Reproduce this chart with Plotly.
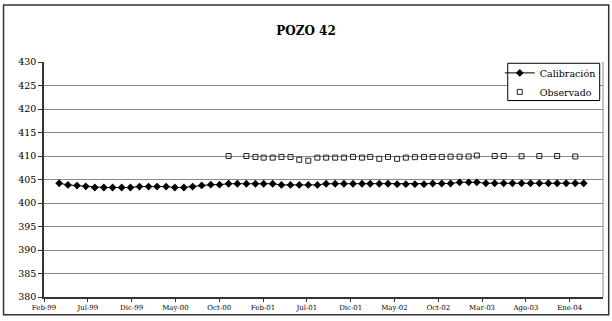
import pandas as pd
import plotly.graph_objects as go

# Monthly calibrated heads, Apr-1999 .. Mar-2004
calib_dates = pd.date_range("1999-04-01", periods=60, freq="MS")
calib_vals = [
    404.2, 403.85, 403.7, 403.55, 403.3, 403.3, 403.3, 403.3, 403.3,          # 1999
    403.5, 403.5, 403.5, 403.5, 403.3, 403.3, 403.5, 403.75, 403.9, 403.9,    # 2000
    404.1, 404.1,
    404.1, 404.1, 404.1, 404.1, 403.85, 403.85, 403.85, 403.85, 403.85,       # 2001
    404.1, 404.1, 404.1,
    404.1, 404.1, 404.1, 404.1, 404.1, 404.0, 404.0, 404.0, 404.0,            # 2002
    404.15, 404.15, 404.15,
    404.4, 404.4, 404.4, 404.2, 404.2, 404.2, 404.2, 404.2, 404.2,            # 2003
    404.2, 404.2, 404.2,
    404.2, 404.2, 404.2,                                                      # 2004
]

# Observed heads
obs_dates = [
    "2000-11-01", "2001-01-01", "2001-02-01", "2001-03-01", "2001-04-01",
    "2001-05-01", "2001-06-01", "2001-07-01", "2001-08-01", "2001-09-01",
    "2001-10-01", "2001-11-01", "2001-12-01", "2002-01-01", "2002-02-01",
    "2002-03-01", "2002-04-01", "2002-05-01", "2002-06-01", "2002-07-01",
    "2002-08-01", "2002-09-01", "2002-10-01", "2002-11-01", "2002-12-01",
    "2003-01-01", "2003-02-01", "2003-03-01", "2003-05-01", "2003-06-01",
    "2003-08-01", "2003-10-01", "2003-12-01", "2004-02-01",
]
obs_vals = [
    410.0, 410.0, 409.8, 409.65, 409.65,
    409.8, 409.8, 409.2, 409.0, 409.65,
    409.65, 409.65, 409.65, 409.8, 409.65,
    409.8, 409.4, 409.8, 409.4, 409.65,
    409.75, 409.8, 409.8, 409.8, 409.85,
    409.85, 409.9, 410.1, 410.0, 410.0,
    409.95, 410.0, 410.0, 409.9,
]

tick_labels = ["Feb-99", "Jul-99", "Dic-99", "May-00", "Oct-00", "Feb-01", "Jul-01",
               "Dic-01", "May-02", "Oct-02", "Mar-03", "Ago-03", "Ene-04"]

axis_start = pd.Timestamp("1999-02-08")
axis_end = pd.Timestamp("2004-05-06")
tick_step = pd.Timedelta(days=150)
tick_pos = [axis_start + i * tick_step for i in range(len(tick_labels))]

SERIF = "DejaVu Serif"

fig = go.Figure()
fig.add_trace(go.Scatter(
    x=calib_dates, y=calib_vals, name="Calibración",
    mode="lines+markers",
    line=dict(color="black", width=1),
    marker=dict(symbol="diamond", size=6, color="black"),
))
fig.add_trace(go.Scatter(
    x=pd.to_datetime(obs_dates), y=obs_vals, name="Observado",
    mode="markers",
    marker=dict(symbol="square-open", size=5, color="#222222", line=dict(width=1)),
))

fig.update_layout(
    width=612, height=321,
    margin=dict(l=44, r=9, t=62, b=19),
    paper_bgcolor="white", plot_bgcolor="white",
    title=dict(text="<b>POZO 42</b>", x=0.5, xanchor="center", y=0.905, yanchor="middle",
               font=dict(family=SERIF, size=12, color="black")),
    font=dict(family=SERIF, color="black"),
    showlegend=True,
    legend=dict(x=0.8153, xanchor="left", y=1.0154, yanchor="top",
                borderwidth=0, bgcolor="rgba(0,0,0,0)",
                font=dict(family=SERIF, size=9.5, color="black"),
                tracegroupgap=0, itemwidth=30),
    xaxis=dict(
        type="date", range=[axis_start, axis_end],
        tickmode="array", tickvals=tick_pos, ticktext=tick_labels,
        tickfont=dict(family=SERIF, size=7, color="black"),
        showgrid=False, zeroline=False,
        showline=True, linecolor="#333333", linewidth=1.5,
        ticks="outside", ticklen=3, tickcolor="#333333",
    ),
    yaxis=dict(
        range=[380, 430], dtick=5, tick0=380,
        tickfont=dict(family=SERIF, size=9.5, color="black"),
        showgrid=True, gridcolor="#8a8a8a", gridwidth=1,
        zeroline=False,
        showline=True, linecolor="#333333", linewidth=1.5,
        ticks="outside", ticklen=4, tickcolor="#333333",
    ),
    shapes=[
        # right edge of plot area
        dict(type="line", xref="paper", yref="paper", x0=1, x1=1, y0=0, y1=1,
             line=dict(color="#8a8a8a", width=1)),
        # legend box
        dict(type="rect", xref="paper", yref="paper",
             x0=0.8296, x1=0.9941, y0=0.836, y1=0.9946,
             line=dict(color="black", width=1), fillcolor="white", layer="above"),
        # outer chart frame
        dict(type="rect", xref="paper", yref="paper",
             x0=-0.0724, x1=1.0102, y0=-0.075, y1=1.2425,
             line=dict(color="#333333", width=1.5)),
    ],
)

fig.write_html("out.html")
